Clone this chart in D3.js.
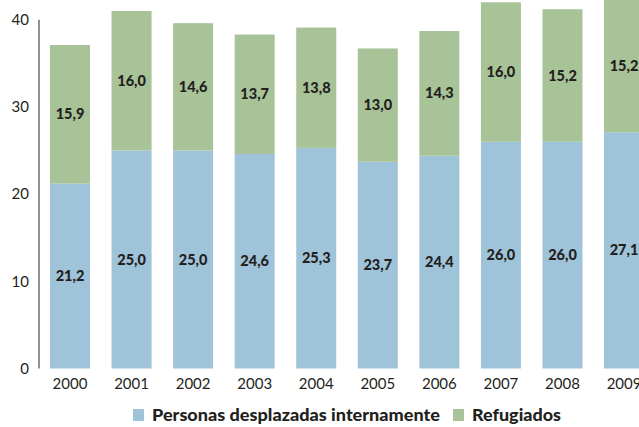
<!DOCTYPE html>
<html>
<head>
<meta charset="utf-8">
<script src="https://cdn.jsdelivr.net/npm/d3@7"></script>
<style>
  body { margin: 0; background: #fff; }
  svg text { font-family: "Lato", "Open Sans", sans-serif; }
</style>
</head>
<body>
<div id="chart"></div>
<script>
const years = ["2000", "2001", "2002", "2003", "2004", "2005", "2006", "2007", "2008", "2009"];
const desplazados = [21.2, 25.0, 25.0, 24.6, 25.3, 23.7, 24.4, 26.0, 26.0, 27.1];
const refugiados = [15.9, 16.0, 14.6, 13.7, 13.8, 13.0, 14.3, 16.0, 15.2, 15.2];
const yTicks = [0, 10, 20, 30, 40];
const seriesNames = ["Personas desplazadas internamente", "Refugiados"];
const colors = ["#9fc3d9", "#a8c397"];

const width = 639, height = 427;
const fmt = v => d3.format(".1f")(v).replace(".", ",");

const svg = d3.select("#chart").append("svg")
    .attr("width", width)
    .attr("height", height);

const x = d3.scaleBand()
    .domain(years)
    .range([50 - 61.56 * 0.175, 50 - 61.56 * 0.175 + 61.56 * 10])
    .paddingInner(0.35)
    .paddingOuter(0.175);

const y = d3.scaleLinear()
    .domain([0, 40])
    .range([368.5, 19.7]);

const stacked = years.map((yr, i) => ({
    year: yr,
    segs: [
        { y0: 0, y1: desplazados[i], v: desplazados[i], c: colors[0] },
        { y0: desplazados[i], y1: desplazados[i] + refugiados[i], v: refugiados[i], c: colors[1] }
    ]
}));

const groups = svg.selectAll(".bar")
    .data(stacked)
    .join("g")
    .attr("class", "bar")
    .attr("transform", d => `translate(${x(d.year)},0)`);

groups.selectAll("rect")
    .data(d => d.segs)
    .join("rect")
    .attr("x", 0)
    .attr("width", x.bandwidth())
    .attr("y", d => y(d.y1))
    .attr("height", d => y(d.y0) - y(d.y1))
    .attr("fill", d => d.c);

groups.selectAll("text.val")
    .data(d => d.segs)
    .join("text")
    .attr("class", "val")
    .attr("x", x.bandwidth() / 2)
    .attr("y", d => y((d.y0 + d.y1) / 2))
    .attr("dy", "0.35em")
    .attr("text-anchor", "middle")
    .attr("font-weight", 900)
    .attr("font-size", 14.5)
    .attr("fill", "#231f20")
    .text(d => fmt(d.v));

// y axis
const yAxis = svg.append("g")
    .attr("transform", "translate(39,0)")
    .call(d3.axisLeft(y).tickValues(yTicks).tickSize(0).tickPadding(10));
yAxis.select(".domain")
    .attr("d", `M0,${y(40)}V${y(0)}`)
    .attr("stroke", "#6d6e71")
    .attr("stroke-width", 1.5);
yAxis.selectAll("text")
    .attr("font-size", 15)
    .attr("fill", "#231f20")
    .style("font-family", "Lato, sans-serif");

// x axis
const xAxis = svg.append("g")
    .attr("transform", `translate(0,${y(0)})`)
    .call(d3.axisBottom(x).tickSize(0).tickPadding(10));
xAxis.select(".domain").remove();
xAxis.selectAll("text")
    .attr("font-size", 15)
    .attr("fill", "#231f20")
    .style("font-family", "Lato, sans-serif");

// legend
const legend = svg.append("g").attr("transform", "translate(0,415)");
const legendX = [133, 453];
const legendLen = [288, 89];
seriesNames.forEach((name, i) => {
    legend.append("rect")
        .attr("x", legendX[i])
        .attr("y", -6)
        .attr("width", 11)
        .attr("height", 12)
        .attr("fill", colors[i]);
    legend.append("text")
        .attr("x", legendX[i] + 19)
        .attr("y", 0)
        .attr("dy", "0.35em")
        .attr("font-size", 17)
        .attr("font-weight", 900)
        .attr("fill", "#231f20")
        .attr("textLength", legendLen[i])
        .attr("lengthAdjust", "spacingAndGlyphs")
        .text(name);
});
</script>
</body>
</html>
